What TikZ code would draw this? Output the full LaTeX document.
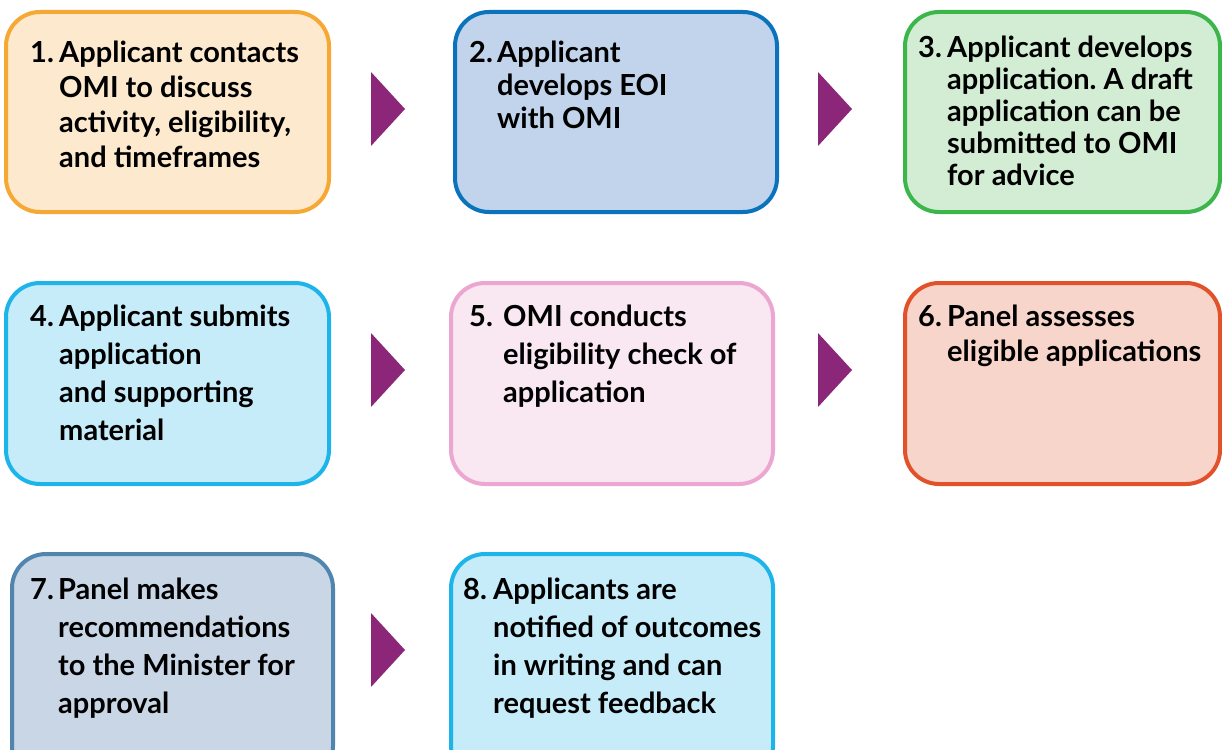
\documentclass[tikz,border=0pt]{standalone}
\usepackage{fontspec}
\setmainfont{Lato}
\frenchspacing
\usetikzlibrary{calc}
\definecolor{bA}{HTML}{F5A834}\definecolor{fA}{HTML}{FDE9CE}
\definecolor{bB}{HTML}{0A73BB}\definecolor{fB}{HTML}{C1D4EC}
\definecolor{bC}{HTML}{3CB54A}\definecolor{fC}{HTML}{D2EDD4}
\definecolor{bD}{HTML}{1DB4E9}\definecolor{fD}{HTML}{C6EBF9}
\definecolor{bE}{HTML}{EBA6D1}\definecolor{fE}{HTML}{F9E8F1}
\definecolor{bF}{HTML}{E2522A}\definecolor{fF}{HTML}{F7D5CA}
\definecolor{bG}{HTML}{5085AE}\definecolor{fG}{HTML}{C8D6E6}
\definecolor{arr}{HTML}{8C2679}
\tikzset{
  stepbox/.style={draw, line width=4pt, rounded corners=34pt, inner sep=0pt},
  numtxt/.style={anchor=base west, inner sep=0pt, font=\fontsize{29}{30}\selectfont\bfseries},
  bodytxt/.style={anchor=base west, inner sep=0pt, font=\fontsize{29}{#1}\selectfont\bfseries},
  tri/.style={fill=arr}
}
\newcommand{\tria}[1]{\fill[tri] ($(#1)+(-17,-37)$) -- ($(#1)+(17,0)$) -- ($(#1)+(-17,37)$) -- cycle;}
\newcommand{\lns}[1]{\begin{tabular}[t]{@{}l@{}}#1\end{tabular}}
\begin{document}
\begin{tikzpicture}[x=1pt,y=-1pt]
\useasboundingbox (0,0) rectangle (1222,749);
\clip (0,0) rectangle (1222,749);
% row 1
\draw[stepbox, draw=bA, fill=fA] (6,12) rectangle (329,212) node[pos=0.5] (b1) {};
\draw[stepbox, draw=bB, fill=fB] (455,12) rectangle (777,212) node[pos=0.5] (b2) {};
\draw[stepbox, draw=bC, fill=fC] (905,12) rectangle (1220,212) node[pos=0.5] (b3) {};
% row 2
\draw[stepbox, draw=bD, fill=fD] (6,283) rectangle (329,484) node[pos=0.5] (b4) {};
\draw[stepbox, draw=bE, fill=fE] (451,283) rectangle (773,484) node[pos=0.5] (b5) {};
\draw[stepbox, draw=bF, fill=fF] (905,283) rectangle (1220,484) node[pos=0.5] (b6) {};
% row 3
\draw[stepbox, draw=bG, fill=fG] (12,554) rectangle (333,780) node[pos=0.5] (b7) {};
\draw[stepbox, draw=bD, fill=fD] (451,554) rectangle (773,780) node[pos=0.5] (b8) {};
% arrows
\coordinate (a12) at (388,109); \tria{a12}
\coordinate (a23) at (835,109); \tria{a23}
\coordinate (a45) at (388,370); \tria{a45}
\coordinate (a56) at (835,370); \tria{a56}
\coordinate (a78) at (388,650); \tria{a78}
% texts
\node[numtxt] (n1) at (30,63) {1.};
\node[bodytxt=35] (t1) at (59,63) {\lns{Applicant contacts\\OMI to discuss\\activity, eligibility,\\and timeframes}};
\node[numtxt] (n2) at (469,63) {2.};
\node[bodytxt=33] (t2) at (497,63) {\lns{Applicant\\develops EOI\\with OMI}};
\node[numtxt] (n3) at (918,58) {3.};
\node[bodytxt=32] (t3) at (947,58) {\lns{Applicant develops\\application. A draft\\application can be\\submitted to OMI\\for advice}};
\node[numtxt] (n4) at (30,326) {4.};
\node[bodytxt=38] (t4) at (59,326) {\lns{Applicant submits\\application\\and supporting\\material}};
\node[numtxt] (n5) at (469,326) {5.};
\node[bodytxt=38] (t5) at (503,326) {\lns{OMI conducts\\eligibility check of\\application}};
\node[numtxt] (n6) at (918,326) {6.};
\node[bodytxt=35] (t6) at (947,326) {\lns{Panel assesses\\eligible applications}};
\node[numtxt] (n7) at (30,599) {7.};
\node[bodytxt=38] (t7) at (58,599) {\lns{Panel makes\\recommendations\\to the Minister for\\approval}};
\node[numtxt] (n8) at (463,599) {8.};
\node[bodytxt=38] (t8) at (493,599) {\lns{Applicants are\\notified of outcomes\\in writing and can\\request feedback}};
\end{tikzpicture}
\end{document}
